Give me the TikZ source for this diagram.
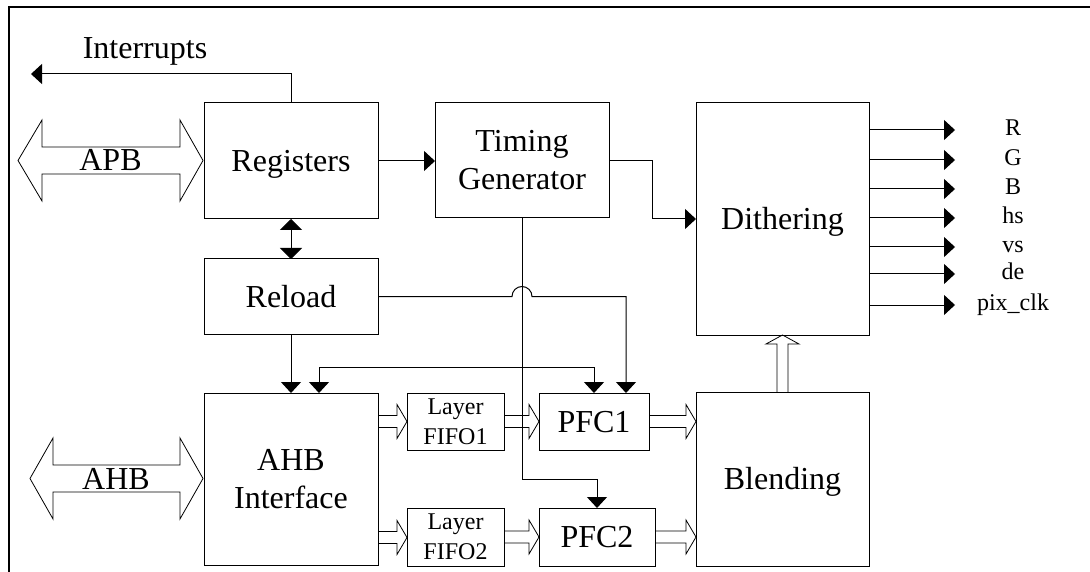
\documentclass[tikz,border=0pt]{standalone}
\usepackage{fontspec}
\setmainfont{Liberation Serif}
\usetikzlibrary{arrows.meta}
\newcommand\fbig{\fontsize{32}{38}\selectfont}
\newcommand\fsml{\fontsize{24}{30}\selectfont}
\newcommand\hollowR[3]{\draw[busline] (#1,#3-6) -- (#2-10,#3-6) -- (#2-10,#3-17) -- (#2,#3) -- (#2-10,#3+17) -- (#2-10,#3+6) -- (#1,#3+6);}
\begin{document}
\begin{tikzpicture}[x=1pt,y=-1pt,
 box/.style={draw, line width=1pt, inner sep=0pt, outer sep=0pt, align=center, font=\fbig},
 one/.style={text height=21.5pt, text depth=0pt},
 sig/.style={line width=1pt},
 busline/.style={line width=0.8pt},
 >={Triangle[length=11pt,width=20pt]},
 lab/.style={font=\fsml, anchor=base, inner sep=0pt},
 biglab/.style={font=\fbig, anchor=base, inner sep=0pt}]
\useasboundingbox (0,0) rectangle (1090,572);
\draw[line width=2.4pt] (9,572) -- (9,7) -- (1090,7);

% blocks
\node[box,one,minimum width=174pt,minimum height=116pt] (reg) at (291,161) {Registers};
\node[box,minimum width=174pt,minimum height=115pt] (tim) at (522,160.5) {Timing\\Generator};
\node[box,one,minimum width=173pt,minimum height=232pt] (dit) at (782.5,219) {Dithering};
\node[box,one,minimum width=174pt,minimum height=75pt] (rel) at (291,296.5) {Reload};
\node[box,minimum width=174pt,minimum height=172pt] (ahb) at (291,479) {AHB\\Interface};
\node[box,font=\fsml,minimum width=97pt,minimum height=57pt] (ff1) at (455.5,421.5) {Layer\\FIFO1};
\node[box,font=\fsml,minimum width=97pt,minimum height=58pt] (ff2) at (455.5,537) {Layer\\FIFO2};
\node[box,one,minimum width=110pt,minimum height=57pt] (pfc1) at (594,421.5) {PFC1};
\node[box,one,minimum width=116pt,minimum height=58pt] (pfc2) at (597,537) {PFC2};
\node[box,one,minimum width=173pt,minimum height=174pt] (bld) at (782.5,479) {Blending};

% interrupts
\node[biglab] (intl) at (145,59) {Interrupts};
\coordinate (intend) at (31,74);
\draw[sig,->] (reg.north) |- (intend);

% bus arrows
\draw[busline] (18,160.5) -- (42,120) -- (42,147) -- (180,147) -- (180,120) -- (203,160.5) -- (180,201) -- (180,174) -- (42,174) -- (42,201) -- cycle;
\node[biglab] (apb) at (110.5,171) {APB};
\draw[busline] (30,478.5) -- (53,438) -- (53,465) -- (180,465) -- (180,438) -- (203,478.5) -- (180,519) -- (180,492) -- (53,492) -- (53,519) -- cycle;
\node[biglab] (ahbl) at (116,489) {AHB};

% signal connectors
\draw[sig,->] (reg.east) -- (reg.east -| tim.west);
\coordinate (tbend) at (652,160.5);
\draw[sig,->] (tim.east) -- (tbend) |- (dit.west);
\draw[sig,<->,>={Triangle[length=11pt,width=22pt]}] (reg.south) -- (rel.north);
\draw[sig,->] (rel.south) -- (ahb.north);
\coordinate (h1) at (512,296.5);
\coordinate (h2) at (626,296.5);
\draw[sig,->] (rel.east) -- (h1) arc[start angle=180,end angle=360,radius=10] -- (h2) -- (h2 |- pfc1.north);
\coordinate (tp) at (597,479);
\draw[sig,->] (tim.south) |- (tp) -- (pfc2.north);
\coordinate (a1) at (319,367);
\draw[sig,<->] (a1 |- ahb.north) -- (a1) -- (a1 -| pfc1.north) -- (pfc1.north);

% outputs
\foreach \yy/\tx/\nm in {130/R/oR,160/G/oG,189/B/oB,218/hs/ohs,247/vs/ovs,274/de/ode,305/pix\_clk/opix} {
  \coordinate (e\nm) at (955,\yy);
  \draw[sig,->] (dit.east |- e\nm) -- (e\nm);
  \node[lab] (\nm) at (1013,\yy+5.5) {\tx};
}

% hollow data arrows
\hollowR{378}{407}{421.5}
\hollowR{378}{407}{537.5}
\hollowR{504}{539}{421.5}
\hollowR{504}{539}{537}
\hollowR{649}{696}{421.5}
\hollowR{655}{696}{537}
\draw[busline] (777,392) -- (777,344) -- (766,344) -- (782.5,335) -- (799,344) -- (788,344) -- (788,392);
\end{tikzpicture}
\end{document}
